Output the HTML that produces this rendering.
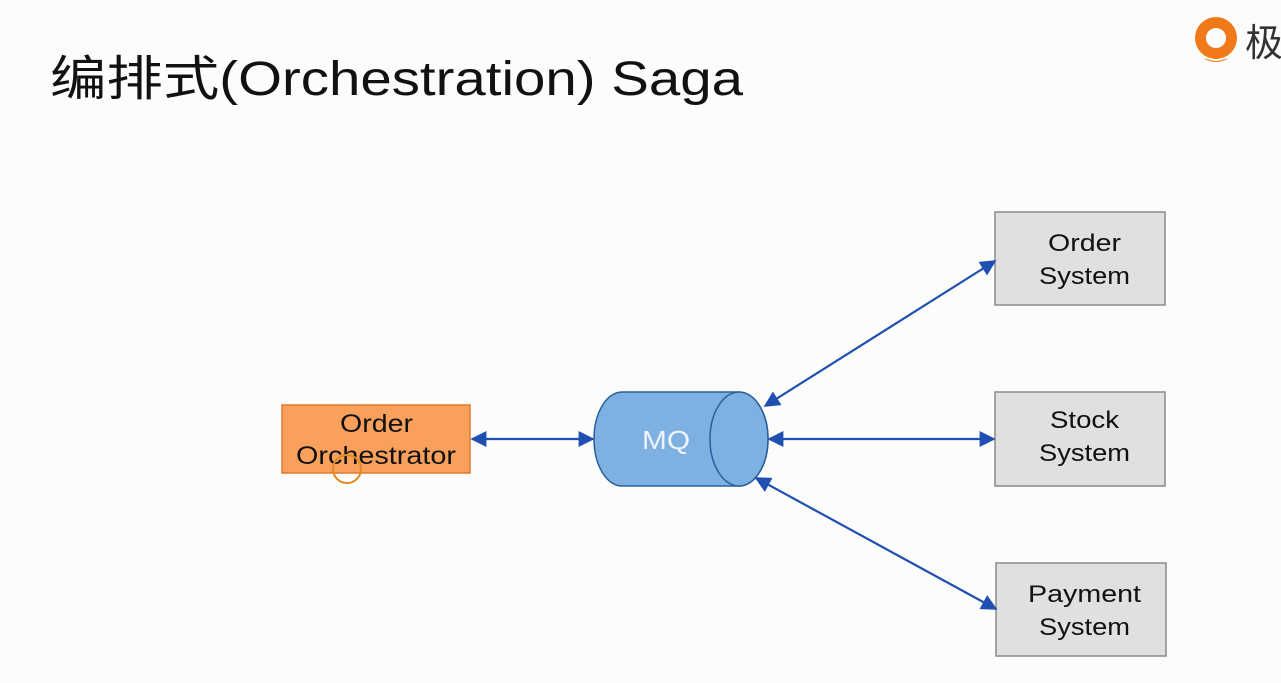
<!DOCTYPE html>
<html><head><meta charset="utf-8"><style>
html,body{margin:0;padding:0;background:#fcfcfa;}
svg{display:block}
text{font-family:"Liberation Sans","Noto Sans CJK SC",sans-serif}
</style></head><body>
<svg width="1281" height="683" viewBox="0 0 1281 683" xmlns="http://www.w3.org/2000/svg">
<defs>
<marker id="a" viewBox="0 0 10 10" refX="9" refY="5" markerWidth="18" markerHeight="16" orient="auto-start-reverse" markerUnits="userSpaceOnUse">
<path d="M0,0 L10,5 L0,10 z" fill="#1f4fb0"/></marker>
</defs>
<rect width="1281" height="683" fill="#fcfcfa"/>
<text x="50" y="95" font-size="48" fill="#111" textLength="693" lengthAdjust="spacingAndGlyphs">编排式(Orchestration) Saga</text>
<!-- logo -->
<circle cx="1216" cy="38" r="21" fill="#f07a1a"/>
<circle cx="1216" cy="38" r="10" fill="#fcfcfa"/>
<path d="M1203 58 Q1216 66 1229 58 L1222 60 Q1216 62 1210 60z" fill="#f07a1a"/>
<text x="1245" y="56" font-size="38" fill="#333">极</text>
<!-- orchestrator -->
<rect x="282" y="405" width="188" height="68" fill="#f9a15c" stroke="#e27b2c" stroke-width="1.5"/>
<text x="340" y="432" font-size="25" fill="#111" textLength="73" lengthAdjust="spacingAndGlyphs">Order</text>
<text x="296" y="464" font-size="25" fill="#111" textLength="160" lengthAdjust="spacingAndGlyphs">Orchestrator</text>
<circle cx="347" cy="469" r="14" fill="none" stroke="#e08a20" stroke-width="2"/>
<!-- cylinder -->
<path d="M622 392 L739 392 A29 47 0 0 1 739 486 L622 486 A28 47 0 0 1 622 392 z" fill="#7eb0e2" stroke="#2a5f9a" stroke-width="1.5"/>
<ellipse cx="739" cy="439" rx="29" ry="47" fill="#7eb0e2" stroke="#2a5f9a" stroke-width="1.5"/>
<text x="642" y="449" font-size="26" fill="#eef4ff" textLength="48" lengthAdjust="spacingAndGlyphs">MQ</text>
<!-- boxes -->
<rect x="995" y="212" width="170" height="93" fill="#e0e0e0" stroke="#8a8a8a" stroke-width="1.5"/>
<text x="1048" y="251" font-size="24" fill="#111" textLength="73" lengthAdjust="spacingAndGlyphs">Order</text>
<text x="1039" y="284" font-size="24" fill="#111" textLength="91" lengthAdjust="spacingAndGlyphs">System</text>
<rect x="995" y="392" width="170" height="94" fill="#e0e0e0" stroke="#8a8a8a" stroke-width="1.5"/>
<text x="1050" y="428" font-size="24" fill="#111" textLength="69" lengthAdjust="spacingAndGlyphs">Stock</text>
<text x="1039" y="461" font-size="24" fill="#111" textLength="91" lengthAdjust="spacingAndGlyphs">System</text>
<rect x="996" y="563" width="170" height="93" fill="#e0e0e0" stroke="#8a8a8a" stroke-width="1.5"/>
<text x="1028" y="602" font-size="24" fill="#111" textLength="113" lengthAdjust="spacingAndGlyphs">Payment</text>
<text x="1039" y="635" font-size="24" fill="#111" textLength="91" lengthAdjust="spacingAndGlyphs">System</text>
<!-- arrows -->
<g stroke="#1f4fb0" stroke-width="2.2" fill="none">
<line x1="472" y1="439" x2="593" y2="439" marker-start="url(#a)" marker-end="url(#a)"/>
<line x1="769" y1="439" x2="994" y2="439" marker-start="url(#a)" marker-end="url(#a)"/>
<line x1="765" y1="406" x2="995" y2="261" marker-start="url(#a)" marker-end="url(#a)"/>
<line x1="756" y1="478" x2="996" y2="609" marker-start="url(#a)" marker-end="url(#a)"/>
</g>
</svg>
</body></html>
